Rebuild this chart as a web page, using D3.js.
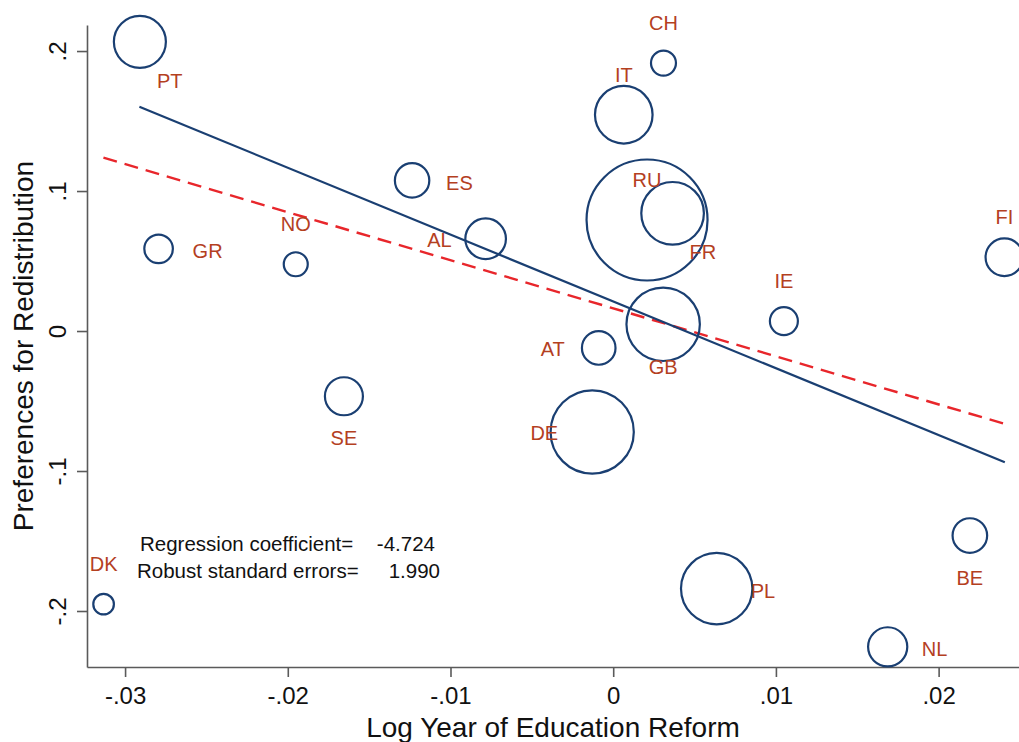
<!DOCTYPE html>
<html>
<head>
<meta charset="utf-8">
<script src="https://cdn.jsdelivr.net/npm/d3@7"></script>
<style>
  html, body { margin: 0; padding: 0; background: #fff; }
  svg { display: block; font-family: "Liberation Sans", Arial, Helvetica, sans-serif; }
</style>
</head>
<body>
<svg id="chart" width="1019" height="742"></svg>
<script>
// ---- data ----
const countries = ["PT","GR","NO","ES","AL","CH","IT","RU","FR","GB","AT","IE","DE","DK","PL","NL","FI","BE","SE"];
const eduReform = [-0.02909,-0.02794,-0.01951,-0.01236,-0.00784,0.00309,0.00065,0.00208,0.00365,0.00307,-0.00089,0.01049,-0.00129,-0.03132,0.00636,0.01687,0.02404,0.02192,-0.01655];
const redistribution = [0.2066,0.0587,0.0477,0.1076,0.0659,0.1914,0.1545,0.0793,0.0841,0.0048,-0.0121,0.0071,-0.0721,-0.1951,-0.1840,-0.2256,0.0527,-0.1461,-0.0466];
const weights = [6.76,2.04,1.44,2.96,4.12,1.56,8.29,36.6,9.80,13.47,2.82,1.96,17.3,1.06,12.74,3.84,3.53,2.99,3.61];
const labelClock = [4,3,12,3,9,12,12,12,4,6,9,12,9,12,3,3,12,6,6];
const xTicks = [-0.03,-0.02,-0.01,0,0.01,0.02];
const xTickLabels = ["-.03","-.02","-.01","0",".01",".02"];
const yTicks = [-0.2,-0.1,0,0.1,0.2];
const yTickLabels = ["-.2","-.1","0",".1",".2"];
const fitWeighted = { x: [-0.02912, 0.02407], y: [0.1602, -0.0938] };
const fitUnweighted = { x: [-0.03133, 0.02407], y: [0.1238, -0.0664] };
const statLabels = ["Regression coefficient=", "Robust standard errors="];
const statValues = ["-4.724", "1.990"];
const xTitle = "Log Year of Education Reform";
const yTitle = "Preferences for Redistribution";

// ---- layout ----
const W = 1019, H = 742;
const plot = { left: 87, right: 1019, top: 25, bottom: 667 };
const svg = d3.select("#chart");

const x = d3.scaleLinear().domain([-0.03234, 0.02494]).range([plot.left, plot.right]);
const y = d3.scaleLinear().domain([-0.24, 0.2186]).range([plot.bottom, plot.top]);
const r = d3.scaleSqrt().domain([0, 36.6]).range([0, 60.5]);

const navy = "#1a3f72";
const labelColor = "#b4401f";
const red = "#e8262b";
const axisColor = "#5a5a5a";

// axes
const xAxis = svg.append("g")
  .attr("transform", `translate(0,${plot.bottom})`)
  .call(d3.axisBottom(x).tickValues(xTicks).tickFormat((d,i)=>xTickLabels[i]).tickSize(10).tickSizeOuter(0).tickPadding(0));
xAxis.select(".domain").attr("stroke", axisColor).attr("stroke-width", 1.6);
xAxis.selectAll(".tick line").attr("stroke", axisColor).attr("stroke-width", 1.6);
xAxis.selectAll(".tick text")
  .attr("y", 37).attr("dy", null)
  .attr("font-size", 24).attr("fill", "#111")
  .attr("font-family", "Liberation Sans, Arial, sans-serif");

const yAxis = svg.append("g")
  .attr("transform", `translate(${plot.left},0)`)
  .call(d3.axisLeft(y).tickValues(yTicks).tickFormat((d,i)=>yTickLabels[i]).tickSize(10).tickSizeOuter(0));
yAxis.select(".domain").attr("stroke", axisColor).attr("stroke-width", 1.6);
yAxis.selectAll(".tick line").attr("stroke", axisColor).attr("stroke-width", 1.6);
yAxis.selectAll(".tick text")
  .attr("x", 0).attr("y", -21).attr("dy", null)
  .attr("transform", "rotate(-90)")
  .attr("text-anchor", "middle")
  .attr("font-size", 24).attr("fill", "#111")
  .attr("font-family", "Liberation Sans, Arial, sans-serif");

// titles
svg.append("text")
  .attr("x", (plot.left + plot.right) / 2).attr("y", 737)
  .attr("text-anchor", "middle").attr("font-size", 28).attr("fill", "#111")
  .text(xTitle);
svg.append("text")
  .attr("transform", `translate(33,${(plot.top + plot.bottom) / 2}) rotate(-90)`)
  .attr("text-anchor", "middle").attr("font-size", 28).attr("fill", "#111")
  .text(yTitle);

// fit lines
const line = d3.line().x(d => x(d[0])).y(d => y(d[1]));
svg.append("path")
  .datum(fitUnweighted.x.map((v,i)=>[v, fitUnweighted.y[i]]))
  .attr("d", line).attr("fill", "none").attr("stroke", red)
  .attr("stroke-width", 2.4).attr("stroke-dasharray", "14,8");
svg.append("path")
  .datum(fitWeighted.x.map((v,i)=>[v, fitWeighted.y[i]]))
  .attr("d", line).attr("fill", "none").attr("stroke", navy)
  .attr("stroke-width", 2.2);

// bubbles
const pts = countries.map((c,i)=>({c, x: eduReform[i], y: redistribution[i], w: weights[i], pos: labelClock[i]}));
svg.append("g").selectAll("circle").data(pts).join("circle")
  .attr("cx", d => x(d.x)).attr("cy", d => y(d.y)).attr("r", d => r(d.w))
  .attr("fill", "none").attr("stroke", navy).attr("stroke-width", 2.2);

// labels (Stata clock positions)
const off = {
  12: { dx: 0, dy: -40, anchor: "middle" },
  3:  { dx: 34, dy: 2, anchor: "start" },
  9:  { dx: -34, dy: 1, anchor: "end" },
  6:  { dx: 0, dy: 42, anchor: "middle" },
  4:  { dx: 17, dy: 39, anchor: "start" }
};
svg.append("g").selectAll("text").data(pts).join("text")
  .attr("x", d => x(d.x) + off[d.pos].dx)
  .attr("y", d => y(d.y) + off[d.pos].dy + 7.2)
  .attr("text-anchor", d => off[d.pos].anchor)
  .attr("font-size", 20).attr("fill", labelColor)
  .text(d => d.c);

// stats text
const statY = [550.5, 577.5];
statLabels.forEach((s,i) => {
  svg.append("text").attr("x", i === 0 ? 140 : 137).attr("y", statY[i])
    .attr("font-size", 20.5).attr("fill", "#111").text(s);
  svg.append("text").attr("x", i === 0 ? 435 : 440).attr("y", statY[i])
    .attr("text-anchor", "end").attr("font-size", 20.5).attr("fill", "#111").text(statValues[i]);
});
</script>
</body>
</html>
